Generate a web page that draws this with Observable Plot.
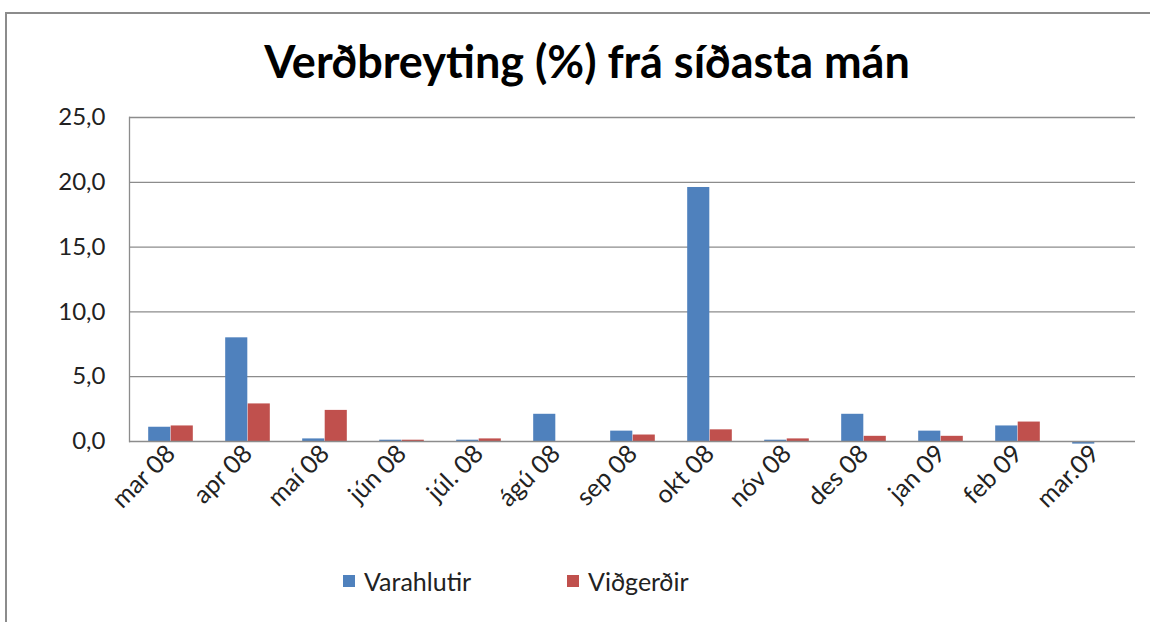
<!DOCTYPE html>
<html>
<head>
<meta charset="utf-8">
<script src="https://cdn.jsdelivr.net/npm/d3@7"></script>
<script src="https://cdn.jsdelivr.net/npm/@observablehq/plot@0.6"></script>
<style>
  html, body { margin: 0; padding: 0; background: #fff; }
  body { width: 1150px; height: 622px; position: relative; overflow: hidden; font-family: Lato, "Liberation Sans", sans-serif; }
  #border { position: absolute; left: 5px; top: 12px; width: 1200px; height: 700px; border: 2px solid #8c8c8c; box-sizing: border-box; }
  #title { position: absolute; left: 0; width: 1174px; top: 34px; text-align: center; font-weight: 700; font-size: 45px; color: #000; white-space: nowrap; }
  #chart { position: absolute; left: 0; top: 0; }
  #legend { position: absolute; top: 566px; left: 0; width: 1150px; font-size: 25px; color: #222; }
  .item { position: absolute; display: flex; align-items: center; }
  .sw { width: 12px; height: 12px; margin-right: 9px; }
  svg g[aria-label="y-axis tick label"] text { font-size: 24px; }
</style>
</head>
<body>
<div id="border"></div>
<div id="title">Verðbreyting (%) frá síðasta mán</div>
<div id="chart"></div>
<div id="legend"></div>
<script>
const months = ["mar 08","apr 08","maí 08","jún 08","júl. 08","ágú 08","sep 08","okt 08","nóv 08","des 08","jan 09","feb 09","mar.09"];
const varahlutir = [1.1, 8.0, 0.2, 0.1, 0.1, 2.1, 0.8, 19.6, 0.1, 2.1, 0.8, 1.2, -0.2];
const vidgerdir  = [1.2, 2.9, 2.4, 0.1, 0.2, 0.0, 0.5, 0.9, 0.2, 0.4, 0.4, 1.5, 0.0];
const seriesNames = ["Varahlutir", "Viðgerðir"];
const seriesColors = ["#4F81BD", "#C0504D"];
const yTicks = [0, 5, 10, 15, 20, 25];

const W = 1150, H = 622;
const mL = 129, mR = 15, mT = 117, mB = 181;
const bw = (W - mL - mR) / months.length;
const barW = 22.5;

const blue = months.map((m, i) => ({month: m, value: varahlutir[i]}));
const red = months.map((m, i) => ({month: m, value: vidgerdir[i]}));

const chart = Plot.plot({
  width: W, height: H,
  marginLeft: mL, marginRight: mR, marginTop: mT, marginBottom: mB,
  style: {fontFamily: "Lato, 'Liberation Sans', sans-serif", fontSize: "25px", color: "#222", background: "transparent"},
  x: {type: "band", domain: months, padding: 0, label: null, tickSize: 0, tickRotate: -45, tickPadding: 8},
  y: {domain: [0, 25], ticks: yTicks, label: null, tickSize: 0, tickPadding: 24, tickFormat: d => d.toFixed(1).replace(".", ",")},
  marks: [
    Plot.ruleY(yTicks.filter(d => d > 0), {stroke: "#8c8c8c", strokeWidth: 1.3}),
    Plot.barY(blue, {x: "month", y: "value", fill: seriesColors[0], insetLeft: bw/2 - barW, insetRight: bw/2}),
    Plot.barY(red, {x: "month", y: "value", fill: seriesColors[1], insetLeft: bw/2, insetRight: bw/2 - barW}),
    Plot.ruleY([0], {stroke: "#8c8c8c", strokeWidth: 1.5}),
    Plot.frame({anchor: "left", stroke: "#8c8c8c", strokeWidth: 1.3})
  ]
});
document.getElementById("chart").appendChild(chart);

const legend = document.getElementById("legend");
const lx = [343, 567];
seriesNames.forEach((n, i) => {
  const it = document.createElement("div");
  it.className = "item";
  it.style.left = lx[i] + "px";
  it.innerHTML = `<div class="sw" style="background:${seriesColors[i]}"></div><span>${n}</span>`;
  legend.appendChild(it);
});
</script>
</body>
</html>
